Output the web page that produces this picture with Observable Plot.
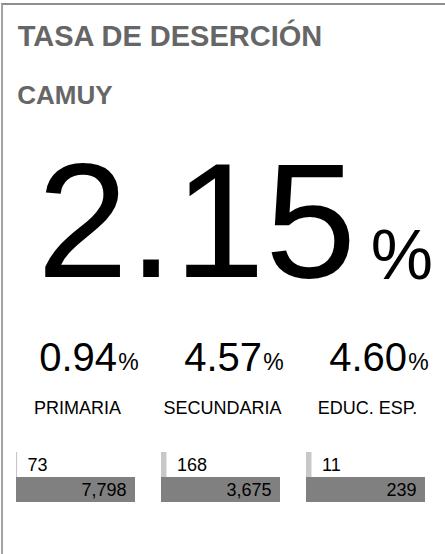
<!DOCTYPE html>
<html>
<head>
<meta charset="utf-8">
<script src="https://cdn.jsdelivr.net/npm/d3@7"></script>
<script src="https://cdn.jsdelivr.net/npm/@observablehq/plot@0.6"></script>
<style>
  html, body { margin: 0; padding: 0; background: #fff; overflow: hidden; }
  body { width: 445px; height: 554px; position: relative; font-family: "Liberation Sans", Arial, sans-serif; }
  #card { position: absolute; left: 1px; top: 3px; width: 520px; height: 620px;
          border-top: 2px solid #8e8e8e; border-left: 2px solid #a4a4a4; box-sizing: border-box; }
  .t { position: absolute; white-space: nowrap; margin: 0; }
  #title { left: 17.7px; top: 21.8px; font-size: 29px; line-height: 29px; font-weight: bold; color: #666; }
  #subtitle { left: 17.2px; top: 82px; font-size: 26px; line-height: 26px; font-weight: bold; color: #666; }
  #big { left: 37px; top: 139.2px; font-size: 164px; line-height: 164px; color: #000; }
  #bigpct { left: 370.8px; top: 219.6px; font-size: 70px; line-height: 70px; color: #000; }
  #plot { position: absolute; left: 0; top: 320px; }
</style>
</head>
<body>
<div id="card"></div>
<div id="title" class="t"></div>
<div id="subtitle" class="t"></div>
<div id="big" class="t"></div>
<div id="bigpct" class="t">%</div>
<div id="plot"></div>
<script>
// ---- data ----
const title = "TASA DE DESERCIÓN";
const subtitle = "CAMUY";
const overallRate = 2.15;
const categories = ["PRIMARIA", "SECUNDARIA", "EDUC. ESP."];
const rates = [0.94, 4.57, 4.60];
const counts = [73, 168, 11];
const totals = [7798, 3675, 239];

document.getElementById("title").textContent = title;
document.getElementById("subtitle").textContent = subtitle;
document.getElementById("big").textContent = overallRate.toFixed(2);

const rows = categories.map((c, i) => ({
  cat: c, rate: rates[i], count: counts[i], total: totals[i], share: counts[i] / totals[i]
}));
const fmt = d3.format(",");

const chart = Plot.plot({
  width: 445,
  height: 234,
  marginTop: 132,
  marginBottom: 52,
  marginLeft: 15,
  marginRight: 18.5,
  style: { fontFamily: "Liberation Sans, Arial, sans-serif", background: "transparent", overflow: "visible" },
  fx: { axis: null, domain: categories, paddingInner: 0.1815, paddingOuter: 0 },
  x: { axis: null, domain: [0, 1] },
  y: { axis: null, domain: ["count", "total"], padding: 0 },
  marks: [
    Plot.barX(rows, { fx: "cat", y: () => "count", x1: 0, x2: "share", fill: "#c8c8c8", inset: 0 }),
    Plot.barX(rows, { fx: "cat", y: () => "total", x1: 0, x2: d => d.total / d.total, fill: "#808080", inset: 0 }),
    Plot.text(rows, { fx: "cat", x: "share", y: () => "count", text: d => String(d.count),
      textAnchor: "start", dx: 10, fontSize: 18, fill: "#000" }),
    Plot.text(rows, { fx: "cat", x: d => d.total / d.total, y: () => "total", text: d => fmt(d.total),
      textAnchor: "end", dx: -9, fontSize: 18, fill: "#000" }),
    Plot.text(rows, { fx: "cat", frameAnchor: "top", lineAnchor: "middle", dx: 41, dy: -94.8,
      textAnchor: "end", text: d => d.rate.toFixed(2), fontSize: 40, fill: "#000" }),
    Plot.text(rows, { fx: "cat", frameAnchor: "top", lineAnchor: "middle", dx: 42.3, dy: -89.4,
      textAnchor: "start", text: () => "%", fontSize: 23, fill: "#000" }),
    Plot.text(rows, { fx: "cat", frameAnchor: "top", lineAnchor: "middle", dx: 1.5, dy: -43.8,
      text: "cat", fontSize: 18, fill: "#000" })
  ]
});
document.getElementById("plot").appendChild(chart);
</script>
</body>
</html>
